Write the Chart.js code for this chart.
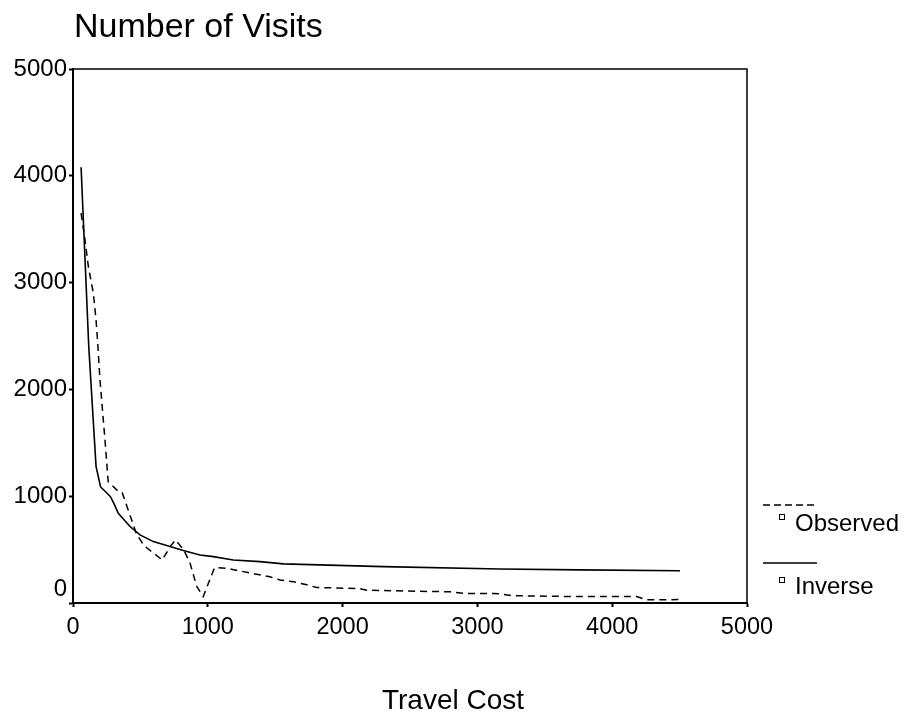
<!DOCTYPE html>
<html>
<head>
<meta charset="utf-8">
<script src="https://cdn.jsdelivr.net/npm/chart.js@4"></script>
<style>
  html, body { margin: 0; padding: 0; background: #ffffff; }
  #wrap { width: 906px; height: 717px; }
</style>
</head>
<body>
<div id="wrap"><canvas id="c" width="906" height="717"></canvas></div>
<script>
const chartTitle = "Number of Visits";
const xAxisTitle = "Travel Cost";
const xTicks = [0, 1000, 2000, 3000, 4000, 5000];
const yTicks = [0, 1000, 2000, 3000, 4000, 5000];

const observedLabel = "Observed";
const observedX = [60, 89, 114, 151, 171, 183, 200, 237, 261, 336, 365, 470, 525, 584, 662, 722, 760, 822, 868, 918, 966, 1050, 1140, 1338, 1461, 1536, 1634, 1734, 1808, 2129, 2178, 2475, 2797, 2896, 3118, 3168, 3266, 3761, 4181, 4255, 4503];
const observedY = [3650, 3400, 3150, 2900, 2650, 2440, 2090, 1530, 1136, 1045, 1033, 650, 540, 480, 403, 530, 590, 496, 375, 155, 59, 331, 325, 275, 245, 215, 200, 170, 145, 135, 120, 112, 105, 90, 90, 85, 68, 60, 60, 30, 32];

const inverseLabel = "Inverse";
const inverseX = [60, 117, 171, 204, 278, 303, 336, 423, 497, 596, 720, 818, 942, 1041, 1189, 1387, 1560, 2302, 3168, 3761, 4503];
const inverseY = [4080, 2400, 1280, 1089, 995, 933, 840, 716, 638, 575, 529, 491, 450, 434, 403, 387, 366, 341, 319, 310, 302];

const FONT = "'Liberation Sans', Arial, sans-serif";

function toPoints(xs, ys) { return xs.map((x, i) => ({ x: x, y: ys[i] })); }

const decorPlugin = {
  id: 'decor',
  afterDraw(chart) {
    const ctx = chart.ctx;
    const a = chart.chartArea;
    ctx.save();
    // frame top and right
    ctx.strokeStyle = '#000';
    ctx.lineWidth = 1.5;
    ctx.beginPath();
    ctx.moveTo(a.left, a.top);
    ctx.lineTo(a.right, a.top);
    ctx.lineTo(a.right, a.bottom);
    ctx.stroke();

    // chart title
    ctx.fillStyle = '#000';
    ctx.textBaseline = 'alphabetic';
    ctx.textAlign = 'left';
    ctx.font = "34px " + FONT;
    ctx.fillText(chartTitle, 74, 37);

    // x axis title
    ctx.font = "28px " + FONT;
    ctx.textAlign = 'center';
    ctx.fillText(xAxisTitle, 453, 709);

    // legend
    const ds = chart.data.datasets;
    const rows = [
      { lineY: 505, boxY: 514, textY: 531 },
      { lineY: 563, boxY: 577, textY: 594 }
    ];
    ds.forEach((d, i) => {
      const r = rows[i];
      ctx.strokeStyle = '#000';
      ctx.lineWidth = 1.3;
      ctx.setLineDash(d.borderDash ? [7, 4] : []);
      ctx.beginPath();
      ctx.moveTo(763, r.lineY);
      ctx.lineTo(817, r.lineY);
      ctx.stroke();
      ctx.setLineDash([]);
      ctx.lineWidth = 1;
      ctx.strokeRect(779.5, r.boxY + 0.5, 5, 5);
      ctx.font = "24px " + FONT;
      ctx.textAlign = 'left';
      ctx.fillStyle = '#000';
      ctx.fillText(d.label, 795, r.textY);
    });
    ctx.restore();
  }
};

new Chart(document.getElementById('c'), {
  type: 'line',
  data: {
    datasets: [
      {
        label: observedLabel,
        data: toPoints(observedX, observedY),
        borderColor: '#000',
        borderWidth: 1.5,
        borderDash: [7, 5],
        pointRadius: 0,
        fill: false,
        tension: 0
      },
      {
        label: inverseLabel,
        data: toPoints(inverseX, inverseY),
        borderColor: '#000',
        borderWidth: 1.6,
        pointRadius: 0,
        fill: false,
        tension: 0
      }
    ]
  },
  options: {
    responsive: false,
    animation: false,
    layout: { padding: { top: 69, right: 159, left: 0, bottom: 0 } },
    plugins: {
      legend: { display: false },
      title: { display: false },
      tooltip: { enabled: false }
    },
    scales: {
      x: {
        type: 'linear',
        min: 0, max: 5000,
        afterBuildTicks(scale) { scale.ticks = xTicks.map(v => ({ value: v })); },
        afterFit(scale) { scale.height = 114; },
        grid: { drawOnChartArea: false, drawTicks: true, tickLength: 4, tickWidth: 2, tickColor: '#000' },
        border: { display: true, color: '#000', width: 2 },
        ticks: {
          color: '#000',
          font: { family: FONT, size: 23.5 },
          padding: 6,
          maxRotation: 0,
          autoSkip: false,
          callback: v => String(v)
        }
      },
      y: {
        type: 'linear',
        min: 0, max: 5000,
        afterBuildTicks(scale) { scale.ticks = yTicks.map(v => ({ value: v })); },
        afterFit(scale) { scale.width = 73; },
        grid: { drawOnChartArea: false, drawTicks: true, tickLength: 4, tickWidth: 2, tickColor: '#000' },
        border: { display: true, color: '#000', width: 2 },
        ticks: {
          color: '#000',
          font: { family: FONT, size: 24, lineHeight: 1.1 },
          padding: 2,
          autoSkip: false,
          callback: v => (v === 0 ? ['0', ''] : String(v))
        }
      }
    }
  },
  plugins: [decorPlugin]
});
</script>
</body>
</html>
